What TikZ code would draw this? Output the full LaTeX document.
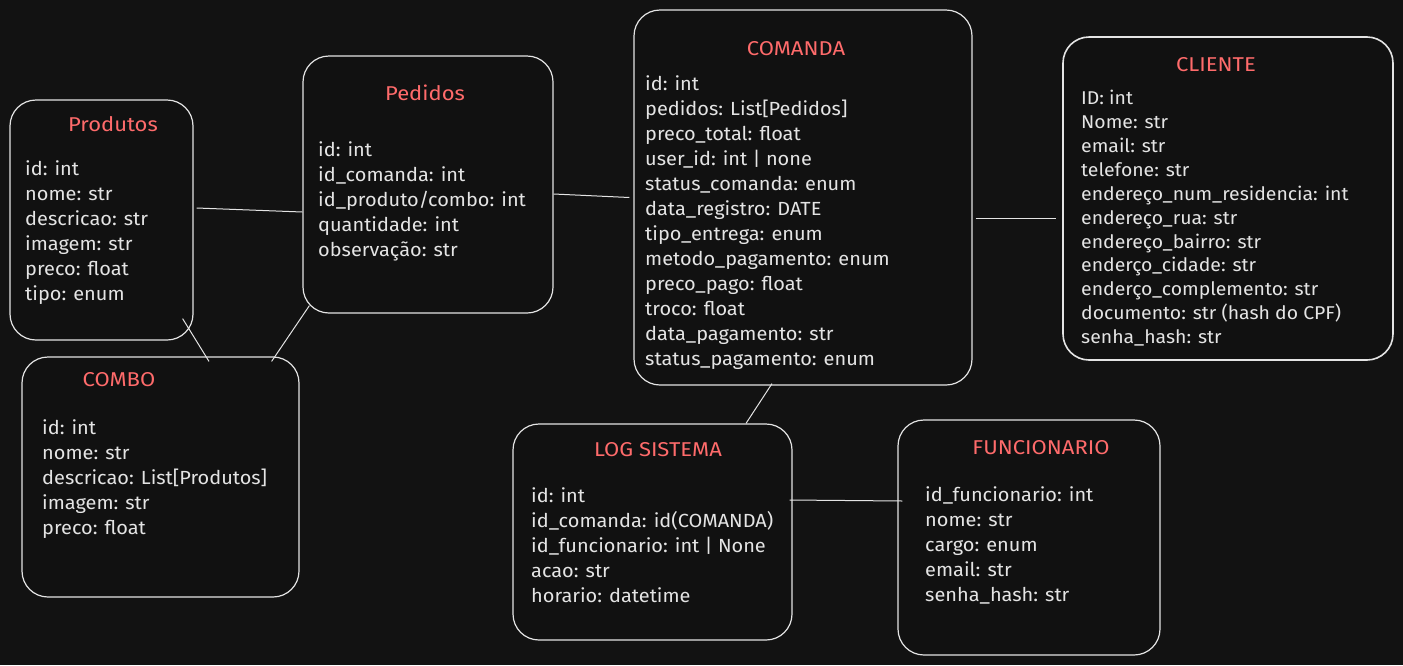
\documentclass[tikz,border=0pt]{standalone}
\usepackage{fontspec}
\setmainfont{Fira Sans}
\newfontfamily\fieldfont[FakeStretch=1.05]{Fira Sans}
\newfontfamily\titlefont[FakeStretch=1.1]{Fira Sans}
\usetikzlibrary{calc}
\definecolor{bg}{HTML}{121212}
\definecolor{boxfill}{HTML}{111111}
\definecolor{fg}{HTML}{E4E4E4}
\definecolor{ttlc}{HTML}{FF6B6B}
\tikzset{
  ent/.style={draw=fg, line width=1.2pt, rounded corners=26pt, fill=boxfill, inner sep=0pt},
  ttl/.style={text=ttlc, font=\titlefont\fontsize{20}{24}\selectfont, inner sep=0pt},
  fld/.style={text=fg, font=\fieldfont\fontsize{19}{25}\selectfont, align=left, anchor=north west, inner sep=0pt},
  fldsmall/.style={fld, font=\fieldfont\fontsize{18.5}{23.9}\selectfont},
  link/.style={draw=fg, line width=1pt}
}
\begin{document}
\begin{tikzpicture}[x=1pt,y=-1pt]
\fill[bg] (0,0) rectangle (1403,665);
\useasboundingbox (0,0) rectangle (1403,665);

% boxes
\node[ent, minimum width=183pt, minimum height=240pt] (produtos) at (101.5,220) {};
\node[ent, minimum width=250pt, minimum height=257pt] (pedidos) at (428,184.5) {};
\node[ent, minimum width=338pt, minimum height=375pt] (comanda) at (803,197.5) {};
\node[ent, minimum width=330pt, minimum height=323pt, line width=1.6pt] (cliente) at (1228,198.5) {};
\node[ent, minimum width=277pt, minimum height=240pt] (combo) at (160.5,477) {};
\node[ent, minimum width=279pt, minimum height=216pt] (logs) at (652.5,532) {};
\node[ent, minimum width=262pt, minimum height=235pt] (func) at (1029,537.5) {};

% titles
\node[ttl] (tprod) at (113,124) {Produtos};
\node[ttl] (tped) at (425,93) {Pedidos};
\node[ttl] (tcom) at (796,49) {COMANDA};
\node[ttl] (tcli) at (1216,65) {CLIENTE};
\node[ttl] (tcombo) at (119,380) {COMBO};
\node[ttl] (tlog) at (658,450) {LOG SISTEMA};
\node[ttl] (tfunc) at (1041,448) {FUNCIONARIO};

% fields
\node[fld] (fprod) at (25,160) {id: int\\nome: str\\descricao: str\\imagem: str\\preco: float\\tipo: enum};
\node[fld] (fped) at (318,141) {id: int\\id\_comanda: int\\id\_produto/combo: int\\quantidade: int\\observação: str};
\node[fld] (fcom) at (645,75) {id: int\\pedidos: List[Pedidos]\\preco\_total: float\\user\_id: int | none\\status\_comanda: enum\\data\_registro: DATE\\tipo\_entrega: enum\\metodo\_pagamento: enum\\preco\_pago: float\\troco: float\\data\_pagamento: str\\status\_pagamento: enum};
\node[fldsmall] (fcli) at (1081,90) {ID: int\\Nome: str\\email: str\\telefone: str\\endereço\_num\_residencia: int\\endereço\_rua: str\\endereço\_bairro: str\\enderço\_cidade: str\\enderço\_complemento: str\\documento: str (hash do CPF)\\senha\_hash: str};
\node[fld] (fcombo) at (42,419) {id: int\\nome: str\\descricao: List[Produtos]\\imagem: str\\preco: float};
\node[fld] (flog) at (531,487) {id: int\\id\_comanda: id(COMANDA)\\id\_funcionario: int | None\\acao: str\\horario: datetime};
\node[fld] (ffunc) at (925,486) {id\_funcionario: int\\nome: str\\cargo: enum\\email: str\\senha\_hash: str};

% connectors
\draw[link] ([xshift=3pt,yshift=12pt]produtos.east) -- ([yshift=-27.5pt]pedidos.west);
\draw[link] ([yshift=-9.5pt]pedidos.east) -- ([xshift=-4pt]comanda.west);
\draw[link] ([xshift=3pt,yshift=-20.5pt]comanda.east) -- ([xshift=-6pt,yshift=-19.5pt]cliente.west);
\draw[link] ($(produtos.south east)+(-11,-22)$) -- ($(combo.north)+(48.5,5)$);
\draw[link] ($(pedidos.south west)+(7,-8)$) -- ($(combo.north east)+(-28,5)$);
\draw[link] ($(comanda.south)+(-31,-2)$) -- ($(logs.north)+(93.5,0)$);
\draw[link] ($(logs.east)+(-3,-32)$) -- ($(func.west)+(5,-36.5)$);
\end{tikzpicture}
\end{document}
